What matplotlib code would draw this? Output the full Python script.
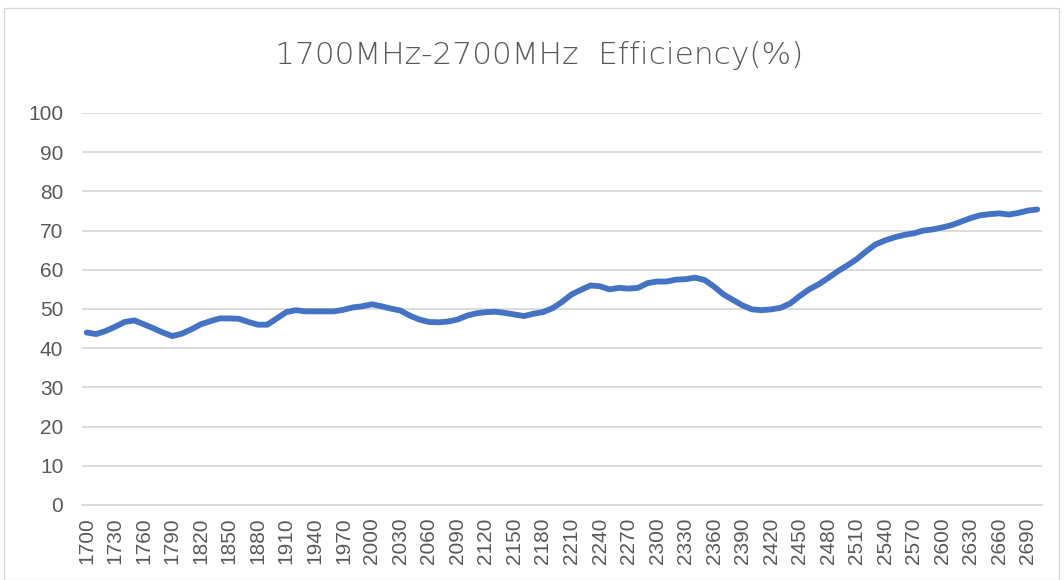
"""
1700MHz-2700MHz antenna efficiency, Excel-style line chart.
"""

import numpy as np
import matplotlib.pyplot as plt
from matplotlib.patches import Rectangle

plt.rcParams['font.family'] = ['Liberation Sans', 'DejaVu Sans']

# --- data: frequency (MHz) and efficiency (%) ---
freq = list(range(1700, 2701, 10))
efficiency = [
    44.0, 43.6, 44.4, 45.5, 46.7, 47.1, 46.1, 45.1, 44.0, 43.1,   # 1700-1790
    43.7, 44.8, 46.1, 46.9, 47.6, 47.6, 47.5, 46.7, 46.0, 46.0,   # 1800-1890
    47.6, 49.2, 49.7, 49.4, 49.4, 49.4, 49.4, 49.8, 50.4, 50.7,   # 1900-1990
    51.2, 50.7, 50.1, 49.6, 48.3, 47.3, 46.7, 46.6, 46.8, 47.3,   # 2000-2090
    48.3, 48.9, 49.2, 49.3, 49.0, 48.6, 48.2, 48.8, 49.2, 50.2,   # 2100-2190
    51.8, 53.7, 54.9, 56.0, 55.8, 55.0, 55.4, 55.2, 55.4, 56.6,   # 2200-2290
    57.0, 57.0, 57.5, 57.6, 58.0, 57.4, 55.7, 53.7, 52.3, 50.9,   # 2300-2390
    49.9, 49.7, 49.9, 50.3, 51.4, 53.3, 55.0, 56.3, 57.9, 59.6,   # 2400-2490
    61.1, 62.7, 64.7, 66.5, 67.5, 68.3, 68.9, 69.3, 70.0, 70.3,   # 2500-2590
    70.8, 71.4, 72.3, 73.2, 73.9, 74.2, 74.4, 74.1, 74.5, 75.1,   # 2600-2690
    75.4,                                                         # 2700
]
title = '1700MHz-2700MHz  Efficiency(%)'
y_ticks = list(range(0, 101, 10))

TEXT = '#595959'
GRID = '#D9D9D9'
LINE = '#4472C4'

fig = plt.figure(figsize=(10.64, 5.8), dpi=100)

# chart area border
fig.patches.append(Rectangle((4 / 1064, 0.0), 1055 / 1064, 1 - 8 / 580,
                             transform=fig.transFigure, fill=False,
                             edgecolor=GRID, linewidth=1.0))

ax = fig.add_axes([82 / 1064, 1 - 505 / 580, 960 / 1064, 392 / 580])

x = np.arange(len(freq))
ax.plot(x, efficiency, color=LINE, linewidth=4.2,
        solid_capstyle='round', solid_joinstyle='round', zorder=3)

ax.set_xlim(-0.5, len(freq) - 0.5)
ax.set_ylim(0, 100)
ax.set_yticks(y_ticks)
ax.set_xticks(x[::3])
ax.set_xticklabels([str(f) for f in freq[::3]], rotation=90)

ax.grid(axis='y', color=GRID, linewidth=1.3)
ax.set_axisbelow(True)
for side in ['top', 'right', 'left']:
    ax.spines[side].set_visible(False)
ax.spines['bottom'].set_color(GRID)
ax.spines['bottom'].set_linewidth(1.3)
ax.tick_params(axis='both', length=0, colors=TEXT, labelsize=15)
ax.tick_params(axis='y', pad=13.5)
ax.tick_params(axis='x', pad=9)

fig.text(539 / 1064, 1 - 55 / 580, title, ha='center', va='center',
         fontsize=22.5, color=TEXT, family=['DejaVu Sans'], fontweight='light')

fig.savefig('out.png', dpi=100)
